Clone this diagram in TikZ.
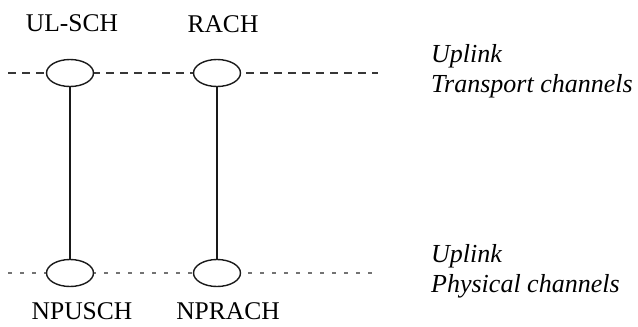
\documentclass[tikz,border=0pt]{standalone}
\usepackage{fontspec}
\setmainfont{Liberation Serif}
\usepackage{tikz}
\usetikzlibrary{positioning, shapes.geometric}
\definecolor{dashgray}{RGB}{55, 55, 55}
\definecolor{dotgray}{RGB}{115, 115, 115}
\definecolor{linkblack}{RGB}{25, 25, 25}

\tikzset{
  chan/.style={draw=linkblack, fill=white, ellipse, line width=1.4pt,
               minimum width=47pt, minimum height=27pt, inner sep=0pt},
  chanlabel/.style={font=\fontsize{25.5}{28}\selectfont, inner sep=0pt},
  sidelabel/.style={font=\fontsize{26}{30}\selectfont\itshape,
                    align=left, anchor=west, inner sep=0pt}
}

\begin{document}
\begin{tikzpicture}[x=1pt, y=-1pt]
      \useasboundingbox (0,0) rectangle (638,327);
      % channel levels
      \coordinate (topL) at (8,73);
      \coordinate (topR) at (378,73);
      \coordinate (botL) at (8,273);
      \coordinate (botR) at (378,273);
      \draw[dashgray, line width=2pt, dash pattern=on 8pt off 6pt] (topL) -- (topR);
      \draw[dotgray, line width=2pt, dash pattern=on 4pt off 8pt] (botL) -- (botR);

      % transport channels
      \node[chan] (ulsch) at (70,73) {};
      \node[chan] (rach) at (217,73) {};
      % physical channels
      \node[chan] (npusch) at (70,273) {};
      \node[chan] (nprach) at (217,273) {};

      \draw[linkblack, line width=1.8pt] (ulsch.south) -- (npusch.north);
      \draw[linkblack, line width=2.2pt] (rach.south) -- (nprach.north);

      \node[chanlabel] (ulschtxt) at (72,23) {UL-SCH};
      \node[chanlabel] (rachtxt) at (223,24) {RACH};
      \node[chanlabel] (npuschtxt) at (82,311) {NPUSCH};
      \node[chanlabel] (nprachtxt) at (228,311) {NPRACH};

      \node[sidelabel] (transport) at (431,71) {Uplink\\Transport channels};
      \node[sidelabel] (physical) at (431,271) {Uplink\\Physical channels};
    \end{tikzpicture}
\end{document}
